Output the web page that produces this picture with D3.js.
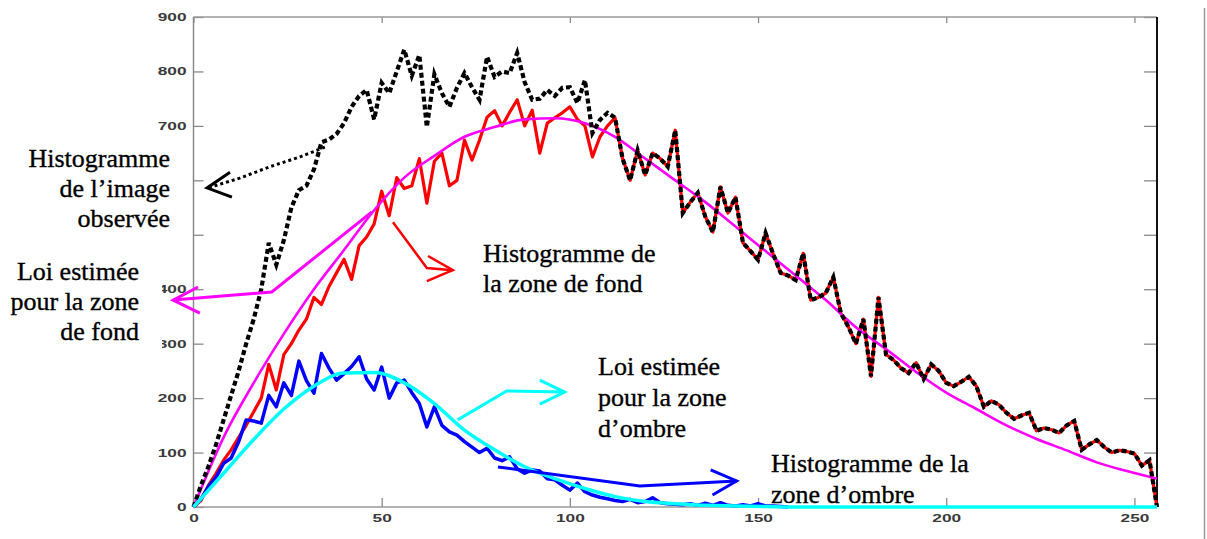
<!DOCTYPE html>
<html>
<head>
<meta charset="utf-8">
<script src="https://cdn.jsdelivr.net/npm/d3@7"></script>
<style>
  body { margin: 0; background: #fff; }
  svg { display: block; background: #fff; }
  .tick text { font-family: "Liberation Sans", Arial, sans-serif; font-weight: bold; font-size: 11px; fill: #3a3a3a; }
  .tick line { stroke: #8a8a8a; stroke-width: 1.3; }
</style>
</head>
<body>
<svg id="chart" width="1207" height="539"></svg>
<script>
// grey levels (histogram bins), every 2 levels
const bins = d3.range(0, 257, 2);
// levels used for the two estimated laws
const lawBins = d3.range(0, 257, 8);

const xTicks = [0, 50, 100, 150, 200, 250];
const yTicks = [0, 100, 200, 300, 400, 500, 600, 700, 800, 900];
// labels 500 and 600 are covered by the left annotation in the original
const yHidden = [500, 600];

// histogram of the observed image (black dashed)
const observed = [
  0, 40, 75, 115, 160, 205, 250, 300, 345, 400,
  485, 445, 490, 550, 582, 590, 620, 670, 675, 685,
  705, 735, 755, 766, 712, 779, 760, 800, 840, 792,
  830, 698, 795, 760, 735, 770, 797, 771, 748, 827,
  790, 800, 797, 834, 780, 748, 750, 766, 755, 770,
  771, 742, 784, 687, 711, 724, 715, 640, 600, 655,
  610, 650, 640, 625, 692, 540, 560, 577, 533, 505,
  588, 540, 569, 485, 470, 454, 503, 465, 430, 425,
  417, 466, 380, 385, 393, 422, 356, 331, 300, 345,
  240, 385, 280, 270, 255, 246, 265, 235, 262, 250,
  228, 222, 230, 239, 222, 184, 195, 188, 173, 162,
  168, 173, 140, 145, 142, 136, 150, 158, 105, 115,
  123, 110, 100, 104, 102, 98, 76, 86, 0
];

// histogram of the background zone (red)
const fondHist = [
  0, 12, 40, 62, 86, 105, 128, 150, 175, 200,
  262, 215, 280, 300, 325, 345, 385, 372, 405, 430,
  455, 418, 480, 496, 520, 580, 535, 605, 585, 590,
  640, 558, 635, 650, 590, 600, 674, 637, 674, 716,
  728, 700, 725, 748, 700, 729, 650, 705, 715, 724,
  735, 712, 700, 643, 680, 700, 715, 640, 600, 655,
  610, 650, 640, 625, 692, 540, 560, 577, 533, 505,
  588, 540, 569, 485, 470, 454, 503, 465, 430, 425,
  417, 466, 380, 385, 393, 422, 356, 331, 300, 345,
  240, 385, 280, 270, 255, 246, 265, 235, 262, 250,
  228, 222, 230, 239, 222, 184, 195, 188, 173, 162,
  168, 173, 140, 145, 142, 136, 150, 158, 105, 115,
  123, 110, 100, 104, 102, 98, 76, 86, 0
];

// histogram of the shadow zone (blue), up to level 158
const ombreHist = [
  0, 15, 38, 55, 80, 90, 120, 160, 158, 154,
  205, 184, 228, 205, 268, 232, 209, 282, 255, 233,
  245, 258, 276, 235, 215, 257, 200, 228, 233, 210,
  190, 147, 184, 150, 138, 132, 120, 110, 100, 108,
  90, 85, 92, 70, 62, 68, 66, 52, 50, 40,
  31, 44, 28, 22, 18, 15, 12, 10, 14, 8,
  10, 17, 8, 6, 5, 4, 6, 3, 7, 3,
  8, 3, 2, 4, 2, 6, 2, 2, 1, 0
];

// estimated law for the background zone (magenta)
const fondLaw = [
  0, 128, 228, 318, 400, 472, 545, 605, 645, 680, 698, 712, 714, 705, 680, 640, 600,
  560, 515, 470, 425, 380, 330, 290, 248, 210, 180, 150, 125, 104, 82, 66, 52
];

// estimated law for the shadow zone (cyan)
const ombreLaw = [
  0, 62, 124, 180, 222, 246, 247, 228, 190, 141, 105, 74, 52, 34, 19, 10, 6,
  3, 2, 1, 0, 0, 0, 0, 0, 0, 0, 0, 0, 0, 0, 0, 0
];

const serif = "'Liberation Serif', 'Times New Roman', Times, serif";

const svg = d3.select("#chart");
const x = d3.scaleLinear().domain([0, 256]).range([193.5, 1157]);
const y = d3.scaleLinear().domain([0, 900]).range([507, 17]);

// axes, ticks pointing inwards
const stretch = sel => sel.selectAll("text")
  .attr("textLength", function () { return this.textContent.length * 9.6; })
  .attr("lengthAdjust", "spacingAndGlyphs");

svg.append("g").attr("transform", `translate(${x(0)},0)`)
  .call(d3.axisLeft(y).tickValues(yTicks).tickSizeInner(-10).tickSizeOuter(0).tickPadding(7)
    .tickFormat(d => yHidden.includes(d) ? "" : d))
  .call(g => g.select(".domain").remove())
  .call(stretch);

svg.append("g").attr("transform", `translate(0,${y(0)})`)
  .call(d3.axisBottom(x).tickValues(xTicks).tickSizeInner(-9).tickSizeOuter(0).tickPadding(7))
  .call(g => g.select(".domain").remove())
  .call(stretch);

svg.append("g").attr("transform", `translate(${x(256)},0)`)
  .call(d3.axisRight(y).tickValues(yTicks).tickSizeInner(-13).tickSizeOuter(0).tickFormat(""))
  .call(g => g.select(".domain").remove());

svg.append("g").attr("transform", `translate(0,${y(900)})`)
  .call(d3.axisTop(x).tickValues(xTicks).tickSizeInner(-6).tickSizeOuter(0).tickFormat(""))
  .call(g => g.select(".domain").remove());

// frame
const frame = svg.append("g").attr("fill", "none");
frame.append("line").attr("x1", x(0)).attr("x2", x(0)).attr("y1", y(900)).attr("y2", y(0))
  .attr("stroke", "#8a8a8a").attr("stroke-width", 1.5);
frame.append("line").attr("x1", x(0)).attr("x2", x(256)).attr("y1", y(900)).attr("y2", y(900))
  .attr("stroke", "#9a9a9a").attr("stroke-width", 1.5);
frame.append("line").attr("x1", x(0)).attr("x2", x(256)).attr("y1", y(0)).attr("y2", y(0))
  .attr("stroke", "#9a9a9a").attr("stroke-width", 1.5);
frame.append("line").attr("x1", x(256)).attr("x2", x(256)).attr("y1", y(900)).attr("y2", y(0))
  .attr("stroke", "#111").attr("stroke-width", 2);
// page rule on the right
frame.append("line").attr("x1", 1204.5).attr("x2", 1204.5).attr("y1", 8).attr("y2", 539)
  .attr("stroke", "#9a9a9a").attr("stroke-width", 1.5);

// series
const histLine = d3.line().x((d, i) => x(bins[i])).y(d => y(d));
const lawLine = d3.line().x((d, i) => x(lawBins[i])).y(d => y(d)).curve(d3.curveMonotoneX);

svg.append("path").datum(fondHist).attr("d", histLine)
  .attr("fill", "none").attr("stroke", "#ff0000").attr("stroke-width", 3.2).attr("stroke-linejoin", "round");
svg.append("path").datum(fondLaw).attr("d", lawLine)
  .attr("fill", "none").attr("stroke", "#ff00ff").attr("stroke-width", 2.6);
svg.append("path").datum(observed).attr("d", histLine)
  .attr("fill", "none").attr("stroke", "#000").attr("stroke-width", 4.2).attr("stroke-dasharray", "5,3");
svg.append("path").datum(ombreHist).attr("d", histLine)
  .attr("fill", "none").attr("stroke", "#0000ff").attr("stroke-width", 3.5).attr("stroke-linejoin", "round");
svg.append("path").datum(ombreLaw).attr("d", lawLine)
  .attr("fill", "none").attr("stroke", "#00ffff").attr("stroke-width", 3.5);

// white boxes behind the left annotations (they hide part of the tick labels)
svg.append("rect").attr("x", 0).attr("y", 130).attr("width", 191).attr("height", 129).attr("fill", "#fff");
svg.append("rect").attr("x", 0).attr("y", 259).attr("width", 162).attr("height", 94).attr("fill", "#fff");

// annotation arrows, in data units (level, count)
const arrows = [
  { color: "#000", width: 3, dash: "3,3",
    shaft: [[34.9, 661], [28.3, 643], [20.3, 625], [12.3, 604], [5.7, 590], [3.6, 586]],
    head: [[9.7, 615], [3.6, 586], [10.2, 569]] },
  { color: "#ff00ff", width: 3, dash: null,
    shaft: [[47.4, 542], [20.8, 395], [-5.4, 380]],
    head: [[1.2, 404], [-5.4, 380], [1.7, 356]] },
  { color: "#ff0000", width: 2.5, dash: null,
    shaft: [[53, 523], [62, 439], [68.9, 435]],
    head: [[62.3, 461], [68.9, 435], [62, 415]] },
  { color: "#00ffff", width: 3, dash: null,
    shaft: [[70.2, 160], [83.2, 213], [98.6, 211]],
    head: [[92, 233], [98.6, 211], [92, 189]] },
  { color: "#0000ff", width: 3, dash: null,
    shaft: [[80.9, 73.5], [118.6, 38.6], [144.3, 47.8]],
    head: [[137.4, 68], [144.3, 47.8], [137.9, 22]] }
];
const arrowLine = d3.line().x(d => x(d[0])).y(d => y(d[1]));
const arrowG = svg.append("g").attr("fill", "none");
arrows.forEach(a => {
  arrowG.append("path").attr("d", arrowLine(a.shaft))
    .attr("stroke", a.color).attr("stroke-width", a.width)
    .attr("stroke-dasharray", a.dash);
  arrowG.append("path").attr("d", arrowLine(a.head))
    .attr("stroke", a.color).attr("stroke-width", a.width);
});

// annotation texts
const labels = [
  { x: 170, y: 167, anchor: "end", lines: ["Histogramme", "de l’image", "observée"], gap: 30 },
  { x: 139, y: 280, anchor: "end", lines: ["Loi estimée", "pour la zone", "de fond"], gap: 30 },
  { x: 483, y: 262, anchor: "start", lines: ["Histogramme de", "la zone de fond"], gap: 30 },
  { x: 598, y: 375, anchor: "start", lines: ["Loi estimée", "pour la zone", "d’ombre"], gap: 31 },
  { x: 771, y: 472, anchor: "start", lines: ["Histogramme de la", "zone d’ombre"], gap: 31 }
];
labels.forEach(l => {
  const t = svg.append("text")
    .style("font-family", serif)
    .attr("font-size", 26).attr("fill", "#000")
    .attr("stroke", "#000").attr("stroke-width", 0.35)
    .attr("text-anchor", l.anchor);
  l.lines.forEach((s, i) => {
    t.append("tspan").attr("x", l.x).attr("y", l.y + i * l.gap).text(s);
  });
});
</script>
</body>
</html>
